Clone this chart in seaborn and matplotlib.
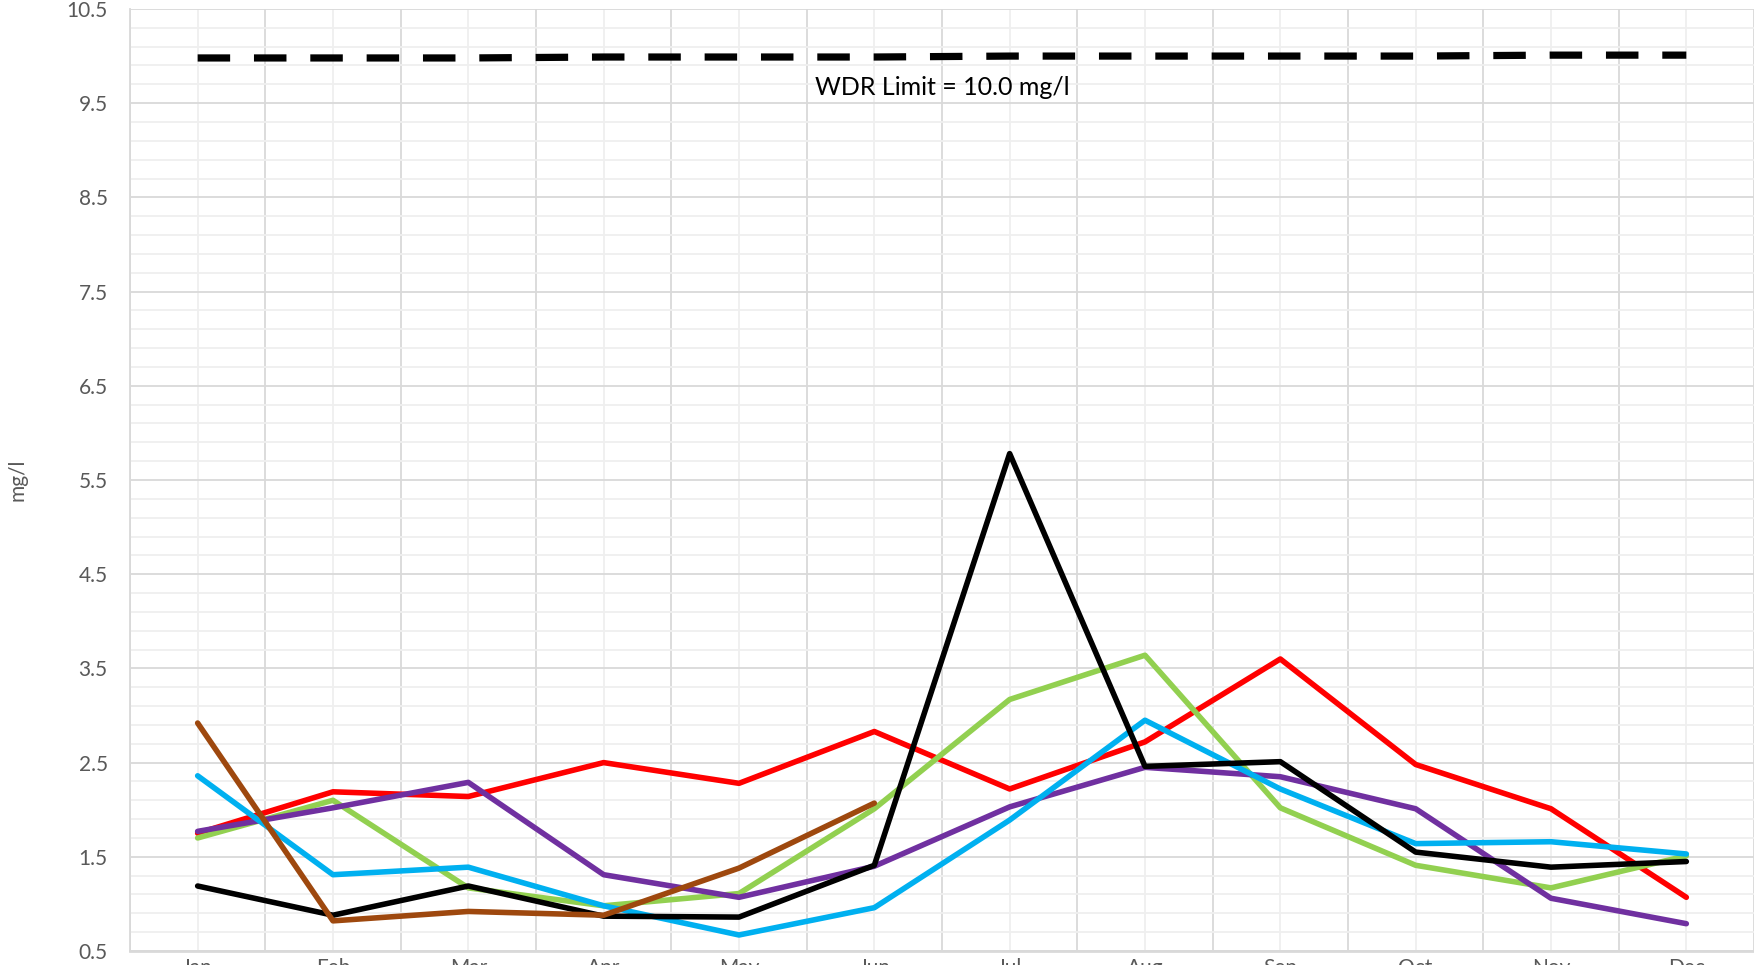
import matplotlib
matplotlib.use("Agg")
import matplotlib.pyplot as plt
import seaborn as sns
import numpy as np
import pandas as pd

# Data
months = ["Jan", "Feb", "Mar", "Apr", "May", "Jun",
          "Jul", "Aug", "Sep", "Oct", "Nov", "Dec"]

red_vals = [1.75, 2.19, 2.14, 2.50, 2.28, 2.83, 2.22, 2.72, 3.60, 2.48, 2.01, 1.07]
green_vals = [1.70, 2.10, 1.17, 0.98, 1.11, 2.01, 3.17, 3.64, 2.02, 1.41, 1.17, 1.51]
purple_vals = [1.77, 2.02, 2.29, 1.31, 1.07, 1.40, 2.03, 2.45, 2.35, 2.01, 1.06, 0.79]
blue_vals = [2.36, 1.31, 1.39, 0.98, 0.67, 0.96, 1.89, 2.95, 2.22, 1.64, 1.66, 1.53]
black_vals = [1.19, 0.88, 1.19, 0.87, 0.86, 1.41, 5.78, 2.46, 2.51, 1.55, 1.39, 1.45]
brown_vals = [2.92, 0.82, 0.92, 0.88, 1.38, 2.07] + [np.nan] * 6

limit_vals = [9.98, 9.98, 9.98, 9.99, 9.99, 9.99, 10.0, 10.0, 10.0, 10.0, 10.01, 10.01]
limit_label = "WDR Limit = 10.0 mg/l"

series = {
    "Series 1": (red_vals, "#FF0000"),
    "Series 2": (green_vals, "#92D050"),
    "Series 3": (purple_vals, "#7030A0"),
    "Series 4": (blue_vals, "#00B0F0"),
    "Series 5": (black_vals, "#000000"),
    "Series 6": (brown_vals, "#9E480E"),
}

rows = []
for name, (vals, _) in series.items():
    for i, v in enumerate(vals):
        rows.append({"series": name, "month_idx": i, "value": v})
long_df = pd.DataFrame(rows).dropna()

palette = {name: col for name, (_, col) in series.items()}

sns.set_style("white")
plt.rcParams['font.family'] = ['Lato', 'DejaVu Sans']

fig, ax = plt.subplots(figsize=(17.54, 9.65), dpi=100)
fig.subplots_adjust(left=0.0741, right=1.0, bottom=0.0145, top=0.9907)

# limit line
sns.lineplot(x=list(range(12)), y=limit_vals, color="black", linewidth=5.2,
             linestyle=(0, (4.5, 3.3)), ax=ax)

# data lines (later series drawn on top)
sns.lineplot(data=long_df, x="month_idx", y="value", hue="series",
             hue_order=list(series.keys()), palette=palette,
             linewidth=4.0, estimator=None, sort=False, legend=False, ax=ax)

ax.text(5.5, 9.67, limit_label, ha="center", va="center", fontsize=18, color="black")

# axes & grid
ax.set_xlim(-0.5, 11.5)
ax.set_ylim(0.5, 10.5)
ax.set_xticks(range(12))
ax.set_xticklabels(months)
ax.set_xticks(np.arange(-0.5, 12, 1), minor=True)
ax.set_yticks(np.arange(0.5, 10.6, 1))
ax.set_yticks(np.arange(0.7, 10.5, 0.2), minor=True)
ax.set_yticklabels([f"{v:.1f}" for v in np.arange(0.5, 10.6, 1)])

ax.set_axisbelow(True)
ax.grid(which="minor", axis="x", color="#D9D9D9", linewidth=1.3)
ax.grid(which="major", axis="x", color="#EFEFEF", linewidth=1.3)
ax.grid(which="major", axis="y", color="#D9D9D9", linewidth=1.3)
ax.grid(which="minor", axis="y", color="#EFEFEF", linewidth=1.3)

ax.tick_params(which="both", length=0)
ax.tick_params(axis="y", pad=16, labelsize=15, labelcolor="#595959")
ax.tick_params(axis="x", pad=5, labelsize=15, labelcolor="#595959")

for side in ["top", "right"]:
    ax.spines[side].set_visible(False)
ax.spines["left"].set_color("#D9D9D9")
ax.spines["left"].set_linewidth(1.3)
ax.spines["bottom"].set_color("#D9D9D9")
ax.spines["bottom"].set_linewidth(2)

ax.set_xlabel("")
ax.set_ylabel("mg/l", fontsize=15, color="#595959")
ax.yaxis.set_label_coords(-0.063, 0.5)

fig.savefig("out.png", dpi=100)
